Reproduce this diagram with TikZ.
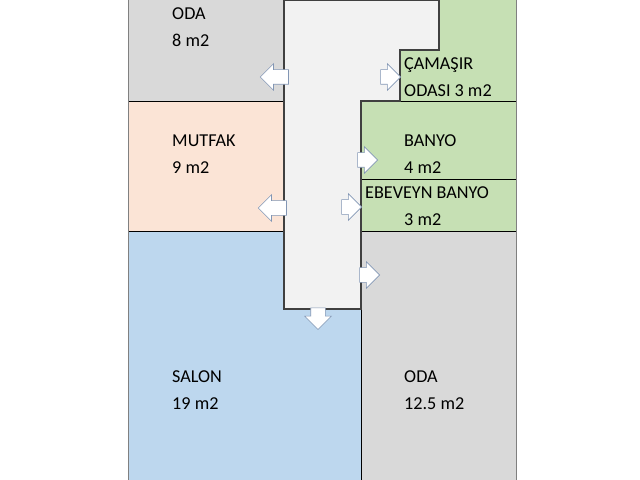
\documentclass[tikz,border=0pt]{standalone}
\usepackage{fontspec}
\setmainfont{Carlito}
\usetikzlibrary{shapes.arrows}
\definecolor{roomgray}{RGB}{217,217,217}
\definecolor{roompeach}{RGB}{251,228,214}
\definecolor{roomblue}{RGB}{189,215,238}
\definecolor{roomgreen}{RGB}{198,224,180}
\definecolor{hallgray}{RGB}{242,242,242}
\definecolor{doorblue}{RGB}{130,150,180}
\tikzset{
  room/.style={draw=black,line width=0.5pt},
  label/.style={anchor=west,align=left,inner sep=0,font=\fontsize{15.5}{23}\selectfont},
  door/.style={single arrow,draw=doorblue,fill=white,line width=0.5pt,inner xsep=0,inner ysep=0.21cm,
    minimum height=0.75cm,single arrow head extend=0.18cm}
}
\begin{document}
\begin{tikzpicture}[x=0.03cm,y=-0.03cm]
\useasboundingbox (0,0) rectangle (640,480);
% rooms
\fill[roomgray]  (128,0) rectangle (284,101);
\fill[roompeach] (128,101) rectangle (284,231);
\fill[roomblue]  (128,231) rectangle (361,480);
\fill[roomgray]  (361,231) rectangle (516,480);
\fill[roomgreen] (361,101) rectangle (516,231);
\fill[roomgreen] (439,0) -- (516,0) -- (516,101) -- (400,101) -- (400,50) -- (439,50) -- cycle;
\draw[room] (284,101) -- (128,101) (284,231) -- (128,231)
            (361,179) -- (516,179) (361,231) -- (516,231) (361,101) -- (516,101);
\draw[room,draw=gray] (516,0) -- (516,480) (128,0) -- (128,480);
\draw[room] (361,309) -- (361,480);
% hall
\draw[fill=hallgray,draw=black!75,line width=1pt]
  (284,0) -- (439,0) -- (439,50) -- (400,50) -- (400,101) -- (361,101)
  -- (361,309) -- (284,309) -- cycle;
% texts
\node[label] (oda1)   at (172,27)  {ODA\\8 m2};
\node[label] (mutfak) at (172,154) {MUTFAK\\9 m2};
\node[label] (salon)  at (172,390) {SALON\\19 m2};
\node[label] (oda2)   at (404,390) {ODA\\12.5 m2};
\node[label] (camasir) at (404,77) {ÇAMAŞIR\\ODASI 3 m2};
\node[label] (banyo)  at (404,154) {BANYO\\4 m2};
\node[label] (ebanyo) at (365,193) {EBEVEYN BANYO};
\node[label] (ebm)    at (404,220) {3 m2};
% doors
\node[door,shape border rotate=180,minimum height=0.85cm] (d1) at (278,77)  {};
\node[door,minimum height=0.6cm]   (d2) at (387,77)  {};
\node[door,minimum height=0.6cm]   (d3) at (364,160) {};
\node[door,shape border rotate=180,minimum height=0.85cm] (d4) at (276,208) {};
\node[door,minimum height=0.6cm]   (d5) at (348,207) {};
\node[door,minimum height=0.6cm]   (d6) at (366,275) {};
\node[door,shape border rotate=270,inner xsep=0.21cm,inner ysep=0,minimum height=0.65cm] (d7) at (318,315) {};
\end{tikzpicture}
\end{document}
